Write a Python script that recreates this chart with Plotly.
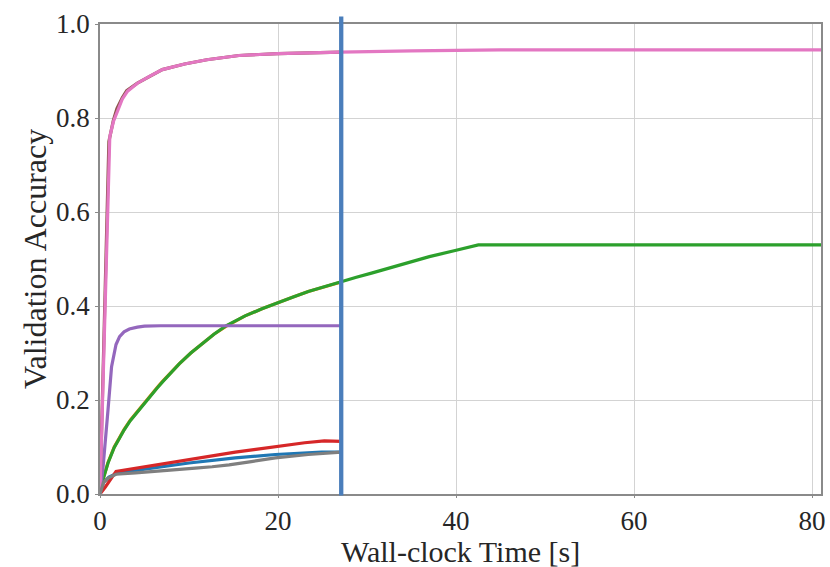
import plotly.graph_objects as go

# Validation accuracy vs. wall-clock time for several training runs
blue_t = [0, 0.4, 1.0, 1.8, 5.0, 10.0, 15.2, 19.7, 24.9, 27.1]
blue_acc = [0, 0.025, 0.036, 0.043, 0.053, 0.066, 0.077, 0.084, 0.089, 0.089]

orange_t = [0, 0.33, 0.9, 1.6, 2.2, 2.7, 3.4, 4.2, 5.0, 5.7, 6.4, 7.0, 8.0, 8.9, 10.2, 11.5,
            12.8, 14.1, 15.2, 16.3, 18.2, 20.0, 21.7, 23.4, 25.3, 27.1]
orange_acc = [0, 0.031, 0.067, 0.100, 0.120, 0.137, 0.157, 0.176, 0.195, 0.211, 0.226, 0.239,
              0.259, 0.277, 0.300, 0.321, 0.340, 0.356, 0.368, 0.379, 0.394, 0.406, 0.419,
              0.431, 0.442, 0.451]

green_t = [0, 0.33, 0.9, 1.6, 2.2, 2.7, 3.4, 4.2, 5.0, 5.7, 6.4, 7.0, 8.0, 8.9, 10.2, 11.5,
           12.8, 14.1, 15.2, 16.3, 18.2, 20.0, 21.7, 23.4, 25.3, 27.1, 28.8, 30.5, 32.4, 34.2,
           37.0, 39.9, 41.2, 42.5, 81.0]
green_acc = [0, 0.030, 0.066, 0.099, 0.119, 0.136, 0.156, 0.175, 0.194, 0.210, 0.225, 0.238,
             0.259, 0.277, 0.300, 0.321, 0.340, 0.357, 0.368, 0.379, 0.394, 0.406, 0.419,
             0.431, 0.442, 0.452, 0.461, 0.470, 0.480, 0.490, 0.505, 0.518, 0.524, 0.530,
             0.530]

red_t = [0, 0.6, 1.8, 4.0, 6.3, 8.5, 10.7, 13.0, 15.2, 17.5, 19.7, 21.5, 23.0, 25.2, 27.1]
red_acc = [0, 0.015, 0.048, 0.055, 0.062, 0.069, 0.076, 0.082, 0.089, 0.095, 0.101, 0.105,
           0.109, 0.113, 0.112]

purple_t = [0, 0.35, 0.9, 1.3, 1.8, 2.2, 2.7, 3.3, 4.2, 5.0, 6.8, 10.0, 27.1]
purple_acc = [0, 0.059, 0.179, 0.271, 0.318, 0.335, 0.345, 0.351, 0.355, 0.357, 0.358, 0.358,
              0.358]

brown_t = [0, 1.0, 1.5, 1.9, 2.5, 3.0, 4.2, 5.5, 7.0, 9.5, 12.0, 15.6, 20.0, 27.1]
brown_acc = [0, 0.750, 0.795, 0.820, 0.843, 0.858, 0.874, 0.888, 0.903, 0.915, 0.924, 0.933,
             0.937, 0.940]

pink_t = [0, 1.1, 1.5, 2.0, 2.5, 3.1, 4.2, 5.5, 7.0, 9.5, 12.0, 15.6, 20.0, 27.0, 35.0, 45.0,
          81.0]
pink_acc = [0, 0.760, 0.792, 0.818, 0.840, 0.857, 0.874, 0.888, 0.903, 0.915, 0.924, 0.933,
            0.937, 0.940, 0.943, 0.945, 0.945]

gray_t = [0, 0.4, 1.0, 1.8, 4.0, 6.3, 8.5, 10.7, 12.6, 14.5, 17.0, 19.7, 23.4, 27.1]
gray_acc = [0, 0.025, 0.035, 0.042, 0.045, 0.048, 0.051, 0.055, 0.058, 0.062, 0.069, 0.077,
            0.084, 0.089]

# Time budget marker
budget_time = [27.1]

x_ticks = [0, 20, 40, 60, 80]
y_ticks = [0.0, 0.2, 0.4, 0.6, 0.8, 1.0]

series = [
    (blue_t, blue_acc, "#1f77b4"),
    (orange_t, orange_acc, "#ff7f0e"),
    (green_t, green_acc, "#2ca02c"),
    (red_t, red_acc, "#d62728"),
    (purple_t, purple_acc, "#9467bd"),
    (brown_t, brown_acc, "#8c564b"),
    (pink_t, pink_acc, "#e377c2"),
    (gray_t, gray_acc, "#7f7f7f"),
]

fig = go.Figure()
for t, acc, color in series:
    fig.add_trace(go.Scatter(x=t, y=acc, mode="lines",
                             line=dict(color=color, width=3.2),
                             showlegend=False))

for bt in budget_time:
    fig.add_shape(type="line", xref="x", yref="paper", x0=bt, x1=bt, y0=-0.003, y1=1.016,
                  line=dict(color="#4a7ebb", width=4.3), layer="above")

font_family = "Liberation Serif, Times New Roman, serif"
text_color = "#262626"
axis_common = dict(
    showline=True, linecolor="#8a8a8a", linewidth=1.5, mirror=True,
    showgrid=True, gridcolor="#d3d3d3", gridwidth=1.3,
    ticks="outside", tickcolor="#8a8a8a", tickwidth=1.2,
    zeroline=False,
    tickfont=dict(family=font_family, size=27, color=text_color),
)

fig.update_layout(
    width=830, height=567,
    margin=dict(l=100, r=4, t=24, b=73),
    paper_bgcolor="white", plot_bgcolor="white",
    xaxis=dict(range=[0, 81], tickvals=x_ticks, ticktext=[str(v) for v in x_ticks],
               ticklen=2, **axis_common),
    yaxis=dict(range=[0, 1], tickvals=y_ticks, ticktext=[f"{v:.1f}" for v in y_ticks],
               ticklen=3, **axis_common),
    annotations=[
        dict(text="Wall-clock Time [s]", xref="paper", yref="paper", x=0.5, y=-0.122,
             xanchor="center", yanchor="middle", showarrow=False,
             font=dict(family=font_family, size=30, color=text_color)),
        dict(text="Validation Accuracy", xref="paper", yref="paper", x=-0.09, y=0.5,
             xanchor="center", yanchor="middle", showarrow=False, textangle=-90,
             font=dict(family=font_family, size=32, color=text_color)),
    ],
)

fig.write_html("out.html")
